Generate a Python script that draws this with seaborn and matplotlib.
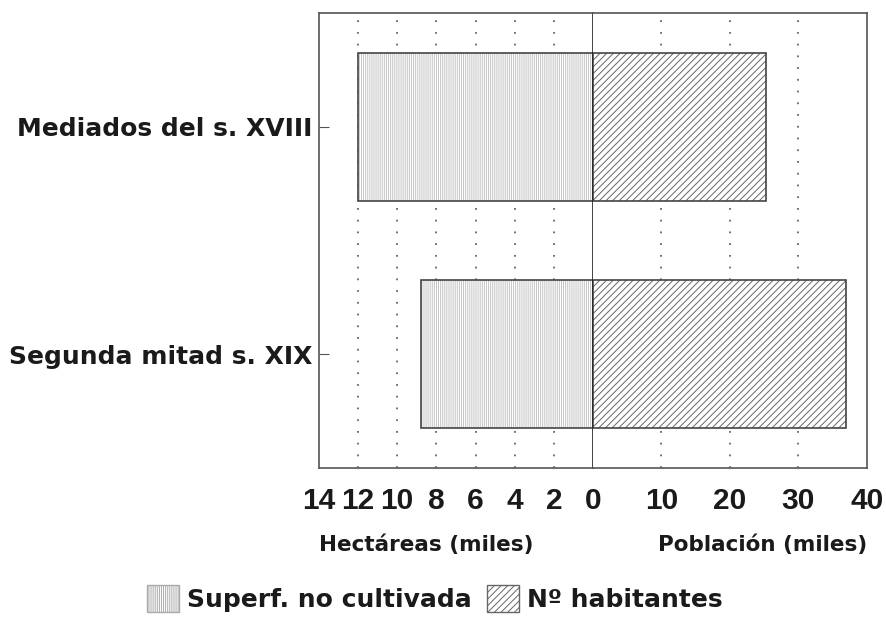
import matplotlib
matplotlib.use("Agg")
import matplotlib.pyplot as plt
import matplotlib.patches as mpatches
import seaborn as sns

sns.set_style("white")
plt.rcParams["font.family"] = ["DejaVu Sans"]
plt.rcParams["font.weight"] = "bold"
plt.rcParams["axes.labelweight"] = "bold"
plt.rcParams["hatch.linewidth"] = 0.7

# Data
periodos = ["Mediados del s. XVIII", "Segunda mitad s. XIX"]
hectareas = [12.0, 8.8]      # superficie no cultivada (miles de ha)
poblacion = [25.3, 37.0]     # nº habitantes (miles)
ticks_hect = [14, 12, 10, 8, 6, 4, 2, 0]
ticks_pobl = [10, 20, 30, 40]

fig = plt.figure(figsize=(8.87, 6.18), dpi=100)
axl = fig.add_axes([0.3596, 0.2427, 0.3089, 0.7362])
axr = fig.add_axes([0.6685, 0.2427, 0.3089, 0.7362], sharey=axl)

edge = "#444444"
grid_kw = dict(color="#666666", linestyle=(0, (1, 5.5)), linewidth=1.3)
hatch_l = "||||||||"
hatch_r = "/////"

# Left: hectáreas (inverted axis)
sns.barplot(x=hectareas, y=periodos, orient="h", ax=axl, color="white",
            width=0.65, linewidth=0, edgecolor="#c4c4c4", hatch=hatch_l)
sns.barplot(x=hectareas, y=periodos, orient="h", ax=axl, fill=False,
            width=0.65, linewidth=1.2, edgecolor=edge)
axl.set_xlim(14, 0)
axl.set_xticks(ticks_hect)
for t in ticks_hect[1:-1]:
    axl.axvline(t, zorder=0, **grid_kw)

# Right: población
sns.barplot(x=poblacion, y=periodos, orient="h", ax=axr, color="white",
            width=0.65, linewidth=0, edgecolor="#666666", hatch=hatch_r)
sns.barplot(x=poblacion, y=periodos, orient="h", ax=axr, fill=False,
            width=0.65, linewidth=1.2, edgecolor=edge)
axr.set_xlim(0, 40)
axr.set_xticks(ticks_pobl)
for t in ticks_pobl[:-1]:
    axr.axvline(t, zorder=0, **grid_kw)

axl.set_ylim(1.5, -0.5)

for ax in (axl, axr):
    for s in ax.spines.values():
        s.set_color("#555555")
        s.set_linewidth(1.2)
    ax.tick_params(axis="x", direction="in", length=7, color="#555555",
                   pad=14, labelsize=21.5, labelcolor="#1a1a1a")
    for lbl in ax.get_xticklabels():
        lbl.set_fontfamily("Liberation Sans")
    ax.set_ylabel("")
axl.spines["right"].set_color("#222222")
axr.spines["left"].set_visible(False)

axl.tick_params(axis="y", direction="in", length=7, color="#555555",
                pad=5, labelsize=18, left=True, labelcolor="#1a1a1a")
axr.tick_params(axis="y", left=False, labelleft=False)

axl.set_xlabel("Hectáreas (miles)", loc="left", fontsize=15.5, labelpad=14,
               color="#1a1a1a")
axr.set_xlabel("Población (miles)", loc="right", fontsize=15.5, labelpad=14,
               color="#1a1a1a")

handles = [
    mpatches.Patch(facecolor="white", edgecolor="#aaaaaa", hatch=hatch_l,
                   label="Superf. no cultivada"),
    mpatches.Patch(facecolor="white", edgecolor="#666666", hatch=hatch_r,
                   label="Nº habitantes"),
]
leg = fig.legend(handles=handles, loc="lower center", bbox_to_anchor=(0.49, -0.027),
                 ncol=2, frameon=False, fontsize=18, handlelength=1.3,
                 handleheight=1.3, handletextpad=0.3, columnspacing=0.6)
for t in leg.get_texts():
    t.set_color("#1a1a1a")

fig.savefig("out.png", dpi=100)
